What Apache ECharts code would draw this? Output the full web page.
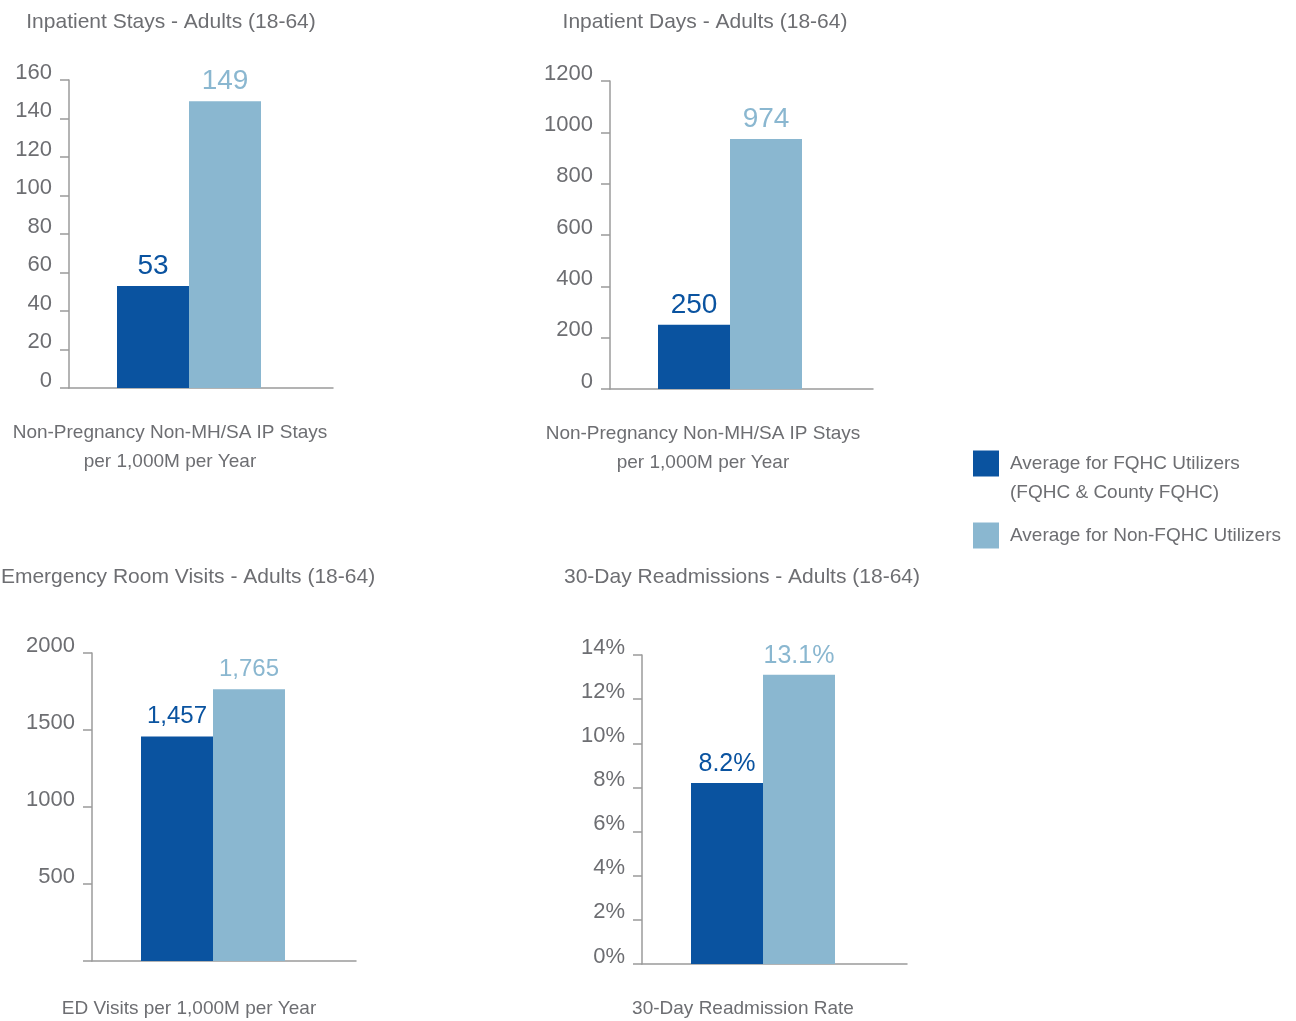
<!DOCTYPE html>
<html>
<head>
<meta charset="utf-8">
<script src="https://cdn.jsdelivr.net/npm/echarts@6/dist/echarts.min.js"></script>
<style>
html,body{margin:0;padding:0;background:#fff;}
#chart{width:1296px;height:1021px;}
</style>
</head>
<body>
<div id="chart"></div>
<script>
// ---- data ----
const seriesNames = ['Average for FQHC Utilizers\n(FQHC & County FQHC)', 'Average for Non-FQHC Utilizers'];
const panelTitles = ['Inpatient Stays - Adults (18-64)', 'Inpatient Days - Adults (18-64)', 'Emergency Room Visits - Adults (18-64)', '30-Day Readmissions - Adults (18-64)'];
const panelCategories = ['Non-Pregnancy Non-MH/SA IP Stays\nper 1,000M per Year', 'Non-Pregnancy Non-MH/SA IP Stays\nper 1,000M per Year', 'ED Visits per 1,000M per Year', '30-Day Readmission Rate'];
const fqhcValues = [53, 250, 1457, 8.2];
const nonFqhcValues = [149, 974, 1765, 13.1];
const yMax = [160, 1200, 2000, 14];
const yInterval = [20, 200, 500, 2];

// ---- styling / layout ----
const FONT = "'Liberation Sans', Arial, sans-serif";
const TXT = '#6d6e72';
const AXIS = '#9b9b9b';
const colors = ['#0a53a0', '#8ab7d0'];

const panels = [
  {axis: {left: 69, top: 80, width: 264, height: 308}, barW: 240, title: [171, 11], cat: [170, 418.5], lblSize: 28, lblDist: 6},
  {axis: {left: 610, top: 81, width: 263, height: 308}, barW: 240, title: [705, 11], cat: [703, 419.5], lblSize: 28, lblDist: 6},
  {axis: {left: 92, top: 653, width: 264, height: 308}, barW: 242, title: [188, 566], cat: [189, 994.5], lblSize: 24, lblDist: 8},
  {axis: {left: 642, top: 655, width: 265, height: 309}, barW: 242, title: [742, 566], cat: [743, 994.5], lblSize: 25, lblDist: 6}
];

function yLabelFmt(i) {
  return function (v) {
    if (i === 2 && v === 0) return '';
    if (i === 3) return v + '%';
    return String(v);
  };
}
function valLabelFmt(i) {
  return function (p) {
    if (i === 2) return Number(p.value).toLocaleString('en-US');
    if (i === 3) return Number(p.value).toFixed(1) + '%';
    return String(p.value);
  };
}

const grid = [], xAxis = [], yAxis = [], series = [], title = [];
panels.forEach((p, i) => {
  const a = p.axis;
  grid.push({left: a.left, top: a.top, width: a.width, height: a.height, containLabel: false});
  grid.push({left: a.left, top: a.top, width: p.barW, height: a.height, containLabel: false});
  const ga = i * 2, gb = i * 2 + 1;
  xAxis.push({
    type: 'category', gridIndex: ga, data: [panelCategories[i]],
    axisLine: {show: true, lineStyle: {color: AXIS, width: 1.5}},
    axisTick: {show: false}, axisLabel: {show: false}, splitLine: {show: false}
  });
  xAxis.push({
    type: 'category', gridIndex: gb, data: [panelCategories[i]], show: false
  });
  yAxis.push({
    type: 'value', gridIndex: ga, min: 0, max: yMax[i], interval: yInterval[i],
    axisLine: {show: true, lineStyle: {color: AXIS, width: 1.5}},
    axisTick: {show: true, inside: false, length: 9, lineStyle: {color: AXIS, width: 1.5}},
    splitLine: {show: false},
    axisLabel: {
      show: true, margin: 17, color: TXT, fontFamily: FONT, fontSize: 22,
      verticalAlign: 'bottom', lineHeight: 15, formatter: yLabelFmt(i)
    }
  });
  yAxis.push({
    type: 'value', gridIndex: gb, min: 0, max: yMax[i], interval: yInterval[i], show: false
  });
  [fqhcValues, nonFqhcValues].forEach((vals, s) => {
    series.push({
      type: 'bar', name: seriesNames[s], xAxisIndex: gb, yAxisIndex: gb,
      data: [vals[i]], barWidth: 72, barGap: '0%',
      itemStyle: {color: colors[s]},
      label: {
        show: true, position: 'top', distance: p.lblDist, color: colors[s],
        fontFamily: FONT, fontSize: p.lblSize, formatter: valLabelFmt(i)
      }
    });
  });
  title.push({
    text: panelTitles[i], left: p.title[0], top: p.title[1], textAlign: 'center', padding: 0,
    textStyle: {fontFamily: FONT, fontSize: 21, fontWeight: 'normal', color: TXT, lineHeight: 22}
  });
  title.push({
    text: panelCategories[i], left: p.cat[0], top: p.cat[1], textAlign: 'center', padding: 0,
    textStyle: {fontFamily: FONT, fontSize: 19, fontWeight: 'normal', color: TXT, lineHeight: 29}
  });
});

const legendText = {fontFamily: FONT, fontSize: 19, color: TXT, lineHeight: 29, padding: [0, 0, 0, 6]};
const option = {
  animation: false,
  backgroundColor: '#ffffff',
  title: title,
  grid: grid,
  xAxis: xAxis,
  yAxis: yAxis,
  legend: [
    {
      data: [seriesNames[0]],
      formatter: function (name) { return ' \n' + name; },
      left: 973, top: 420, orient: 'vertical', padding: 0, itemGap: 0,
      itemWidth: 26, itemHeight: 26, icon: 'rect', selectedMode: false,
      textStyle: legendText
    },
    {
      data: [seriesNames[1]],
      left: 973, top: 521, orient: 'vertical', padding: 0, itemGap: 0,
      itemWidth: 26, itemHeight: 26, icon: 'rect', selectedMode: false,
      textStyle: legendText
    }
  ],
  series: series
};

const chart = echarts.init(document.getElementById('chart'), null, {renderer: 'canvas', width: 1296, height: 1021});
chart.setOption(option);
</script>
</body>
</html>
